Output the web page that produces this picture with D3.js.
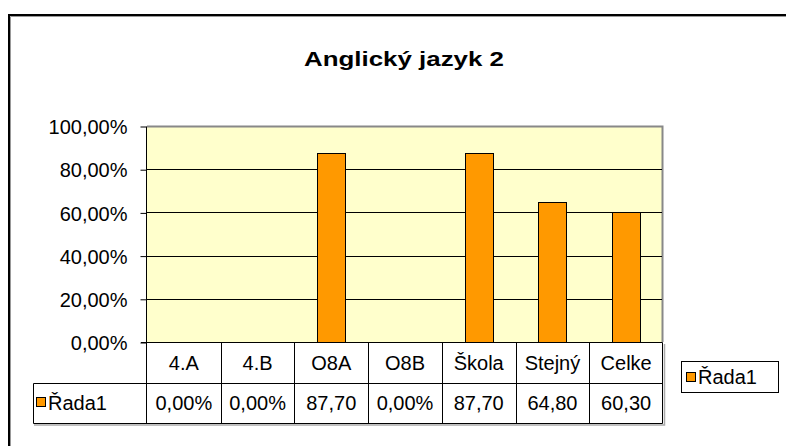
<!DOCTYPE html>
<html><head><meta charset="utf-8">
<script src="https://cdn.jsdelivr.net/npm/d3@7"></script>
<style>body{margin:0;background:#fff;overflow:hidden}svg{display:block}text{font-family:"Liberation Sans",Arial,sans-serif;fill:#000}</style>
</head><body>
<svg id="c" width="786" height="446"></svg>
<script>
const title = "Anglický jazyk 2";
const categories = ["4.A","4.B","O8A","O8B","Škola","Stejný","Celke"];
const values = [0, 0, 87.7, 0, 87.7, 64.8, 60.3];
const valueLabels = ["0,00%","0,00%","87,70","0,00%","87,70","64,80","60,30"];
const yTicks = [0, 20, 40, 60, 80, 100];
const seriesName = "Řada1";

const svg = d3.select("#c");
const L = 147, R = 663, T = 126, B = 342;
const row1 = 383, row2 = 423, tableLeft = 33;

// outer frame (extends past the window on right and bottom)
svg.append("path").attr("d","M9,446V15H786").attr("fill","none").attr("stroke","#000").attr("stroke-width",2);
svg.append("path").attr("d","M10.5,446V16.5H786").attr("fill","none").attr("stroke","#999").attr("stroke-width",1);

// title
svg.append("text").attr("x",404).attr("y",66).attr("text-anchor","middle")
  .attr("font-size",21).attr("font-weight","bold").attr("textLength",200).attr("lengthAdjust","spacingAndGlyphs").text(title);

const x = d3.scaleBand().domain(categories).range([L,R]).paddingInner(0.62).paddingOuter(0.31);
const y = d3.scaleLinear().domain([0,100]).range([B,T]);

// plot area
svg.append("rect").attr("x",L).attr("y",T).attr("width",R-L).attr("height",B-T).attr("fill","#FFFFCC");
svg.append("path").attr("d",`M${L},${T+0.5}H${R-0.5}V${B}`).attr("fill","none").attr("stroke","#888").attr("stroke-width",2);

// gridlines
svg.append("g").selectAll("line").data(yTicks.filter(t=>t>0 && t<100)).join("line")
  .attr("x1",L).attr("x2",R-1).attr("y1",d=>Math.round(y(d))+0.5).attr("y2",d=>Math.round(y(d))+0.5)
  .attr("stroke","#000").attr("stroke-width",1);

// bars
svg.append("g").selectAll("rect").data(values.map((v,i)=>({c:categories[i],v}))).join("rect")
  .attr("x",d=>Math.round(x(d.c))+0.5).attr("y",d=>Math.round(y(d.v))+0.5)
  .attr("width",Math.round(x.bandwidth())).attr("height",d=>B-Math.round(y(d.v)))
  .attr("fill","#FF9900").attr("stroke","#000").attr("stroke-width",1)
  .attr("display",d=>d.v>0?null:"none");

// y axis
const yAxis = d3.axisLeft(y).tickValues(yTicks).tickSize(6).tickPadding(13)
  .tickFormat(d=>d3.format(".2f")(d).replace(".",",")+"%");
const ga = svg.append("g").attr("transform",`translate(${L-0.5},0.5)`).call(yAxis);
ga.select(".domain").attr("stroke","#000").attr("d",`M0,${T}V${B}`);
ga.selectAll(".tick line").attr("stroke","#000");
ga.selectAll(".tick text").attr("font-size",20).attr("font-family","Liberation Sans, Arial, sans-serif").attr("fill","#000").attr("dy","0.36em");

// data table
const tb = svg.append("g");
tb.append("path").attr("d",`M${L-6},${B+0.5}H${R-0.5}V${row2+0.5}H${tableLeft+0.5}V${row1+0.5}H${R}`)
  .attr("fill","none").attr("stroke","#000");
tb.append("path").attr("d",`M${tableLeft+1},${row2+2}H${R+1.5}V${B+2}`).attr("fill","none").attr("stroke","#aaa").attr("stroke-width",1.5);
tb.append("line").attr("x1",L-0.5).attr("x2",L-0.5).attr("y1",B).attr("y2",row2).attr("stroke","#000");
const step = x.step();
tb.selectAll("line.col").data(categories.slice(1)).join("line").attr("class","col")
  .attr("x1",d=>Math.round(x(d)-(step-x.bandwidth())/2)+0.5)
  .attr("x2",d=>Math.round(x(d)-(step-x.bandwidth())/2)+0.5)
  .attr("y1",B).attr("y2",row2).attr("stroke","#000");
tb.selectAll("text.cat").data(categories).join("text").attr("class","cat")
  .attr("x",d=>x(d)+x.bandwidth()/2).attr("y",(B+row1)/2+7).attr("text-anchor","middle")
  .attr("font-size",20).text(d=>d);
tb.selectAll("text.val").data(valueLabels).join("text").attr("class","val")
  .attr("x",(d,i)=>x(categories[i])+x.bandwidth()/2).attr("y",(row1+row2)/2+7).attr("text-anchor","middle")
  .attr("font-size",20).text(d=>d);
tb.append("rect").attr("x",36.5).attr("y",397.5).attr("width",9).attr("height",9).attr("fill","#FF9900").attr("stroke","#000");
tb.append("text").attr("x",48).attr("y",(row1+row2)/2+7).attr("font-size",20).text(seriesName);

// legend
const lg = svg.append("g");
lg.append("rect").attr("x",681.5).attr("y",361.5).attr("width",97).attr("height",31).attr("fill","#fff").attr("stroke","#000");
lg.append("rect").attr("x",686.5).attr("y",372.5).attr("width",9).attr("height",9).attr("fill","#FF9900").attr("stroke","#000");
lg.append("text").attr("x",698).attr("y",384).attr("font-size",20).text(seriesName);
</script>
</body></html>
